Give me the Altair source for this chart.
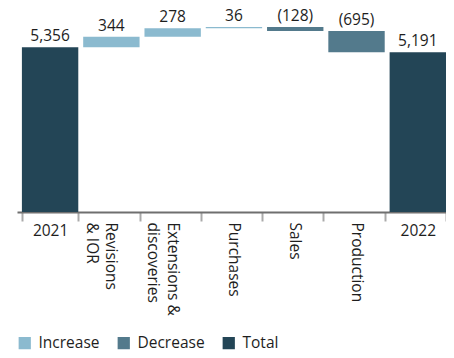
import altair as alt
import pandas as pd

categories = ["2021", "Revisions\n& IOR", "Extensions &\ndiscoveries", "Purchases", "Sales", "Production", "2022"]
values = [5356, 344, 278, 36, -128, -695, 5191]
kinds = ["Total", "Increase", "Increase", "Increase", "Decrease", "Decrease", "Total"]

rows = []
running = 0
for c, v, k in zip(categories, values, kinds):
    if k == "Total":
        start, end = 0, v
        running = v
        label = f"{v:,}"
    else:
        start, end = running, running + v
        running = end
        label = f"{v:,}" if v >= 0 else f"({-v:,})"
    rows.append({"cat": c, "start": start, "end": end, "top": max(start, end), "kind": k, "label": label})
df = pd.DataFrame(rows)

FONT = "Open Sans"
FS = 15.5
TXT = "#1e1e1e"
is_year = "(datum.value == '2021' || datum.value == '2022')"
xscale = alt.Scale(paddingInner=0.08, paddingOuter=0.04, align=1)

x_years = alt.X(
    "cat:N", sort=categories, title=None, scale=xscale,
    axis=alt.Axis(
        orient="bottom", offset=0,
        labelExpr=f"{is_year} ? datum.value : ''",
        labelAngle=0, labelAlign="center", labelBaseline="top",
        labelFont=FONT, labelFontSize=FS, labelColor=TXT,
        labelPadding=2, labelLimit=300, labelOverlap=False,
        tickBand="extent", tickSize=9, tickColor="#aaaaaa", tickWidth=2,
        domainColor="#6f6f6f", domainWidth=2,
    ),
)

x_rot = alt.X(
    "cat:N", sort=categories, title=None, scale=xscale,
    axis=alt.Axis(
        orient="bottom", offset=0,
        labelExpr=f"{is_year} ? '' : split(datum.value, '\\n')",
        labelAngle=90, labelAlign="left", labelBaseline="middle",
        labelFont=FONT, labelFontSize=FS, labelColor=TXT, labelLineHeight=19.5,
        labelPadding=10, labelLimit=300, labelOverlap=False,
        ticks=False, domain=False,
    ),
)

color = alt.Color(
    "kind:N",
    scale=alt.Scale(domain=["Increase", "Decrease", "Total"], range=["#8bbacf", "#537a8c", "#234556"]),
    legend=alt.Legend(
        title=None, orient="none", direction="horizontal", legendX=0, legendY=326, padding=0,
        symbolType="square", symbolSize=150, symbolStrokeWidth=0, symbolOpacity=1,
        labelFont=FONT, labelFontSize=FS, labelColor=TXT, labelOffset=6, columnPadding=16,
    ),
)

yscale = alt.Scale(domain=[0, 6600])

bars = alt.Chart(df).mark_bar().encode(
    x=x_years,
    y=alt.Y("start:Q", scale=yscale, axis=None),
    y2="end:Q",
    color=color,
)

texts = alt.Chart(df).mark_text(font=FONT, fontSize=FS, color=TXT, baseline="alphabetic", dy=-6).encode(
    x=x_rot,
    y=alt.Y("top:Q", scale=yscale),
    text="label:N",
)

chart = (bars + texts).resolve_axis(x="independent").properties(
    width=429, height=203,
    autosize=alt.AutoSizeParams(type="none"),
    padding={"left": 9, "top": 1, "right": 0, "bottom": 138},
).configure_view(stroke=None)

chart.save("out.html", embed_options={"renderer": "svg", "actions": False})
